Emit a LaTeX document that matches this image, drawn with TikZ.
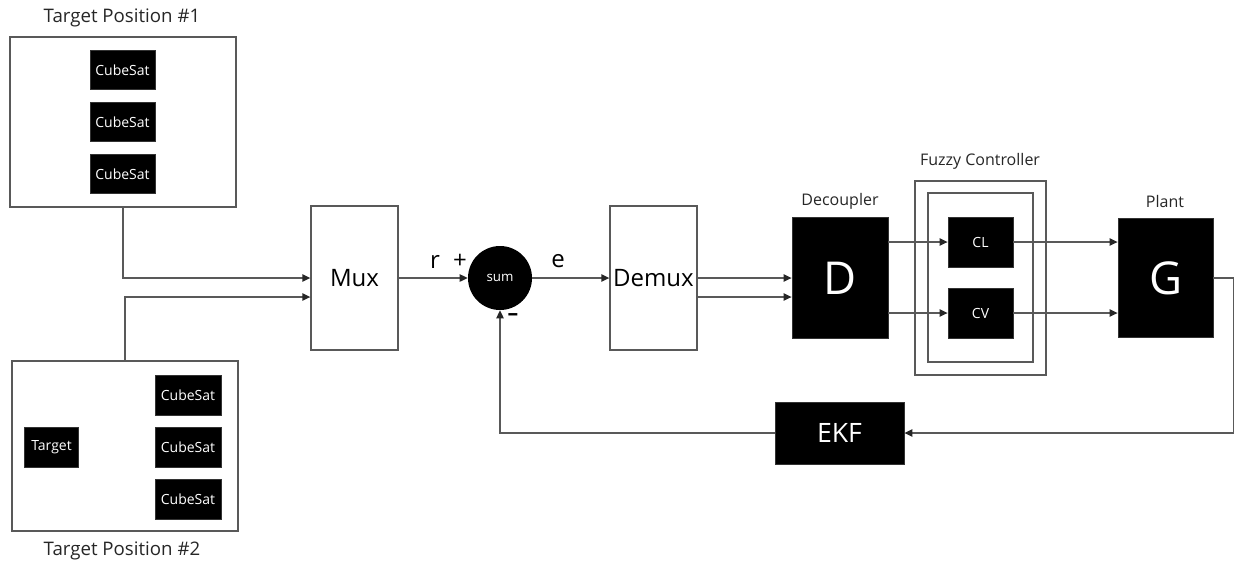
\documentclass[tikz,border=0pt]{standalone}
\usepackage{fontspec}
\setmainfont{Open Sans}
\usetikzlibrary{arrows.meta,positioning,calc}
\definecolor{linegray}{RGB}{89,89,89}

\begin{document}
\begin{tikzpicture}[
    x=0.75pt, y=-0.75pt,
    wbox/.style={rectangle, draw=linegray, fill=white, line width=1pt, font=\fontsize{18}{21}\selectfont},
    bbox/.style={rectangle, draw=black!80, fill=black, line width=0.6pt, text=white, align=center, inner sep=0pt},
    sat/.style={bbox, minimum width=48.75pt, minimum height=29pt, font=\fontsize{10.5}{12}\selectfont},
    headline/.style={font=\fontsize{14}{16}\selectfont, text=black!85},
    caption/.style={font=\fontsize{12}{14}\selectfont, text=black!85},
    sign/.style={font=\fontsize{18}{20}\selectfont},
    arrow/.style={-{Triangle[length=6pt,width=5.5pt,color=black!85]}, line width=1pt, draw=linegray}
]
    \useasboundingbox (0,0) rectangle (1238,565);

    \node [wbox, minimum width=169.5pt, minimum height=127.5pt] (pos1) at (123,122) {};
    \node [sat] (s1) at (122.5,70) {CubeSat};
    \node [sat] (s2) at (122.5,122) {CubeSat};
    \node [sat] (s3) at (122.5,174) {CubeSat};
    \node [headline] (t1) at (122,18) {Target Position \#1};

    \node [wbox, minimum width=169.5pt, minimum height=127.5pt] (pos2) at (125,446) {};
    \node [sat, minimum width=40pt, minimum height=30pt] (tgt) at (51.5,447) {Target};
    \node [sat, minimum width=49.5pt, minimum height=30pt] (s4) at (188,395) {CubeSat};
    \node [sat, minimum width=49.5pt, minimum height=30pt] (s5) at (188,447) {CubeSat};
    \node [sat, minimum width=49.5pt, minimum height=30pt] (s6) at (188,499) {CubeSat};
    \node [headline] (t2) at (122,551) {Target Position \#2};

    \node [wbox, minimum width=65.25pt, minimum height=108pt] (mux) at (354.5,278) {Mux};
    \node [circle, fill=black, minimum size=48pt, inner sep=0pt, text=white, font=\fontsize{10}{12}\selectfont] (sum) at (500,278) {sum};
    \node [wbox, minimum width=65.25pt, minimum height=108pt, inner sep=1pt] (demux) at (653.5,278) {Demux};

    \node [sign] (rlab) at (435,262) {r};
    \node [sign] (plus) at (460,261) {+};
    \node [sign] (elab) at (558,261) {e};
    \node [font=\fontsize{16}{18}\selectfont\bfseries] (minus) at (513,317) {–};

    \node [bbox, minimum width=72pt, minimum height=90.75pt, font=\fontsize{34}{38}\selectfont] (dec) at (840,278) {D};
    \node [caption] (declab) at (840,201) {Decoupler};

    \node [wbox, minimum width=98.25pt, minimum height=145.5pt] (fuz) at (980.5,278) {};
    \node [wbox, minimum width=78.75pt, minimum height=126.75pt] (fuzin) at (980.5,277.5) {};
    \node [caption] (fuzlab) at (980,161) {Fuzzy Controller};
    \node [bbox, minimum width=48.75pt, minimum height=37.5pt, font=\fontsize{10.5}{12}\selectfont] (cl) at (980.5,242) {CL};
    \node [bbox, minimum width=48.75pt, minimum height=37.5pt, font=\fontsize{10.5}{12}\selectfont] (cv) at (980.5,313) {CV};

    \node [bbox, minimum width=71.25pt, minimum height=89.25pt, font=\fontsize{34}{38}\selectfont] (plant) at (1165.5,278) {G};
    \node [caption] (plantlab) at (1165,201) {Plant};

    \node [bbox, minimum width=96.75pt, minimum height=46.5pt, font=\fontsize{20}{24}\selectfont] (ekf) at (839.5,433) {EKF};

    \coordinate (in1) at (mux.west);
    \coordinate (in2) at ($(mux.west)+(0,19)$);
    \draw [arrow] (pos1.south) |- (in1);
    \draw [arrow] (pos2.north) |- (in2);
    \draw [arrow] (mux) -- (sum);
    \draw [arrow] (sum) -- (demux);
    \draw [arrow] (demux.east) -- (demux.east -| dec.west);
    \draw [arrow] ($(demux.east)+(0,19)$) -- ($(demux.east -| dec.west)+(0,19)$);
    \draw [arrow] (dec.east |- cl.west) -- (cl.west);
    \draw [arrow] (dec.east |- cv.west) -- (cv.west);
    \draw [arrow] (cl.east) -- (cl.east -| plant.west);
    \draw [arrow] (cv.east) -- (cv.east -| plant.west);
    \draw [arrow] (plant.east) -- ++(20,0) |- (ekf.east);
    \draw [arrow] (ekf.west) -| (sum.south);
\end{tikzpicture}
\end{document}
